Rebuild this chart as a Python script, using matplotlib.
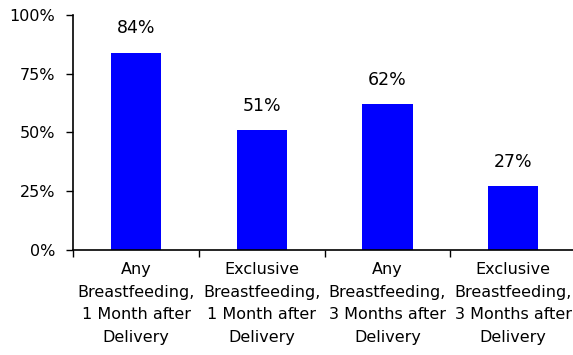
import numpy as np
import matplotlib.pyplot as plt
from matplotlib.ticker import FixedLocator, PercentFormatter

categories = ["Any\nBreastfeeding,\n1 Month after\nDelivery",
              "Exclusive\nBreastfeeding,\n1 Month after\nDelivery",
              "Any\nBreastfeeding,\n3 Months after\nDelivery",
              "Exclusive\nBreastfeeding,\n3 Months after\nDelivery"]
values = [84, 51, 62, 27]

plt.rcParams['font.family'] = ['DejaVu Sans']

fig = plt.figure(figsize=(5.73, 3.55), dpi=100)
ax = fig.add_axes([0.128, 0.296, 0.877, 0.662])

x = np.arange(len(values))
ax.bar(x, values, width=0.4, color="#0000ff")
for xi, v in zip(x, values):
    ax.text(xi, v + 6.5, f"{v}%", ha="center", va="bottom", fontsize=12.5)

ax.set_xlim(-0.5, len(values) - 0.5)
ax.set_ylim(0, 100)
ax.set_yticks([0, 25, 50, 75, 100])
ax.yaxis.set_major_formatter(PercentFormatter(decimals=0))
ax.tick_params(axis="y", labelsize=11.5, length=5, width=1, direction="out", pad=8)

ax.set_xticks(x)
ax.set_xticklabels(categories, fontsize=11.5, linespacing=1.62)
ax.xaxis.set_minor_locator(FixedLocator(np.arange(-0.5, len(values), 1.0)))
ax.tick_params(axis="x", which="major", length=0, pad=9)
ax.tick_params(axis="x", which="minor", length=5, width=1, direction="out")

for s in ["top", "right"]:
    ax.spines[s].set_visible(False)
for s in ["left", "bottom"]:
    ax.spines[s].set_linewidth(1.2)

fig.savefig("out.png", dpi=100)
